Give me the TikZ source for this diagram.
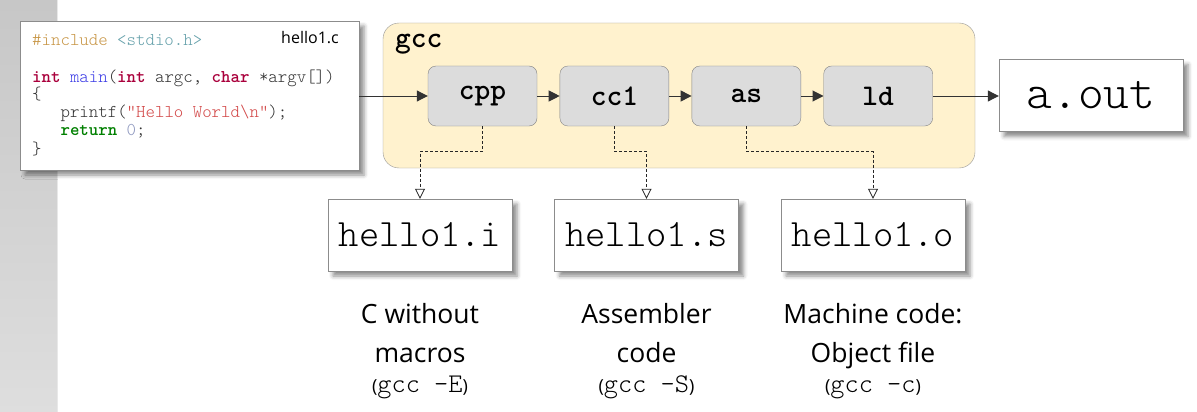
\documentclass[tikz,border=0pt]{standalone}
\usepackage{fontspec}
\setmainfont{Open Sans}
\usetikzlibrary{arrows.meta,positioning,shadows.blur}

\newcommand\smallpar[1]{{\fontsize{18}{20}\selectfont#1}}
\newcommand\thintt{\ttfamily\fontseries{l}\selectfont}

\definecolor{codeinc}{RGB}{200,150,70}
\definecolor{codehdr}{RGB}{100,160,170}
\definecolor{codekw}{RGB}{170,0,60}
\definecolor{codefn}{RGB}{60,60,230}
\definecolor{codestr}{RGB}{210,70,70}
\definecolor{coderet}{RGB}{0,128,0}
\definecolor{codenum}{RGB}{140,150,190}
\definecolor{codetxt}{RGB}{50,50,50}
\definecolor{gccfill}{RGB}{255,242,206}
\definecolor{gccline}{RGB}{150,150,150}
\definecolor{stagefill}{RGB}{220,220,220}
\definecolor{stageline}{RGB}{130,130,130}
\definecolor{fileline}{RGB}{140,140,140}

\begin{document}
\begin{tikzpicture}[x=1pt,y=-1pt]
	\tikzset{stage/.style={draw=stageline, fill=stagefill, rounded corners=8pt, minimum width=109pt, minimum height=60pt, inner sep=0pt, font=\ttfamily\bfseries\fontsize{30}{32}\selectfont}}
	\tikzset{file/.style={draw=fileline, fill=white, minimum width=184pt, minimum height=72pt, inner sep=0pt, blur shadow={shadow xshift=5pt, shadow yshift=-5pt, shadow blur radius=4pt, shadow opacity=45}}}
	\tikzset{flow/.style={draw=black!80, line width=1pt, -{Triangle[length=11pt,width=11pt]}}}
	\tikzset{emit/.style={draw=black!85, line width=0.8pt, dash pattern=on 3pt off 2pt, -{Triangle[open,length=10pt,width=10pt,fill=white]}}}
	\tikzset{note/.style={anchor=base, inner sep=0pt, font=\fontsize{26.5}{39}\selectfont}}

	\useasboundingbox (0,0) rectangle (1197,412);
	\shade[top color=black!22, bottom color=black!13] (0,0) rectangle (57,412);
	\draw[black!9] (57.5,0) -- (57.5,412);

	% source file
	\node[file, minimum width=339pt, minimum height=149pt] (code) at (189.5,95.5) {};
	\node[anchor=base west, inner sep=0pt, text=codetxt] (src) at (32,46) {\thintt\fontsize{18}{18}\selectfont
		\begin{tabular}[t]{@{}l@{}}
		{\color{codeinc}\#include} {\color{codehdr}<stdio.h>}\\
		\\
		{\color{codekw}\bfseries int} {\color{codefn}main}({\color{codekw}\bfseries int} argc, {\color{codekw}\bfseries char} *argv[])\\
		\{\\
		\ \ \ printf({\color{codestr}"Hello World\textbackslash n"});\\
		\ \ \ {\color{coderet}\bfseries return} {\color{codenum}0};\\
		\}
		\end{tabular}};
	\node[anchor=base east, inner sep=0pt, font=\fontsize{16}{18}\selectfont] (fname) at (339,44) {hello1.c};

	% compiler driver
	\node[draw=gccline, fill=gccfill, rounded corners=16pt, minimum width=592pt, minimum height=145pt] (gcc) at (679,95.5) {};
	\node[anchor=base west, inner sep=0pt, font=\ttfamily\bfseries\fontsize{30}{32}\selectfont] (gcclabel) at (395,48) {gcc};

	\node[stage] (cpp) at (482.5,96) {cpp};
	\node[stage, right=22.5pt of cpp] (ccone) {cc1};
	\node[stage, right=22.5pt of ccone] (as) {as};
	\node[stage, right=22.5pt of as] (ld) {ld};

	\node[file, font=\thintt\fontsize{49}{51}\selectfont] (aout) at (1091,95.5) {a.out};

	\node[file, font=\thintt\fontsize{38.7}{40}\selectfont] (hi) at (420,235) {hello1.i};
	\node[file, font=\thintt\fontsize{38.7}{40}\selectfont] (hs) at (646.5,235) {hello1.s};
	\node[file, font=\thintt\fontsize{38.7}{40}\selectfont] (ho) at (873,235) {hello1.o};

	\draw[flow] (code.east |- cpp.west) -- (cpp.west);
	\draw[flow] (cpp) -- (ccone);
	\draw[flow] (ccone) -- (as);
	\draw[flow] (as) -- (ld);
	\draw[flow] (ld.east) -- (aout.west |- ld.east);

	\draw[emit] (cpp.south) -- ++(0,25) -| (hi.north);
	\draw[emit] (ccone.south) -- ++(0,25) -| (hs.north);
	\draw[emit] (as.south) -- ++(0,25) -| (ho.north);

	% what each file is
	\node[note] (ni) at (420,323) {\begin{tabular}[t]{@{}c@{}}C without\\macros\\[-9pt]\smallpar{(}{\thintt\fontsize{27}{28}\selectfont gcc -E}\smallpar{)}\end{tabular}};
	\node[note] (ns) at (646.5,323) {\begin{tabular}[t]{@{}c@{}}Assembler\\code\\[-9pt]\smallpar{(}{\thintt\fontsize{27}{28}\selectfont gcc -S}\smallpar{)}\end{tabular}};
	\node[note] (no) at (873,323) {\begin{tabular}[t]{@{}c@{}}Machine code:\\Object file\\[-9pt]\smallpar{(}{\thintt\fontsize{27}{28}\selectfont gcc -c}\smallpar{)}\end{tabular}};
\end{tikzpicture}
\end{document}
